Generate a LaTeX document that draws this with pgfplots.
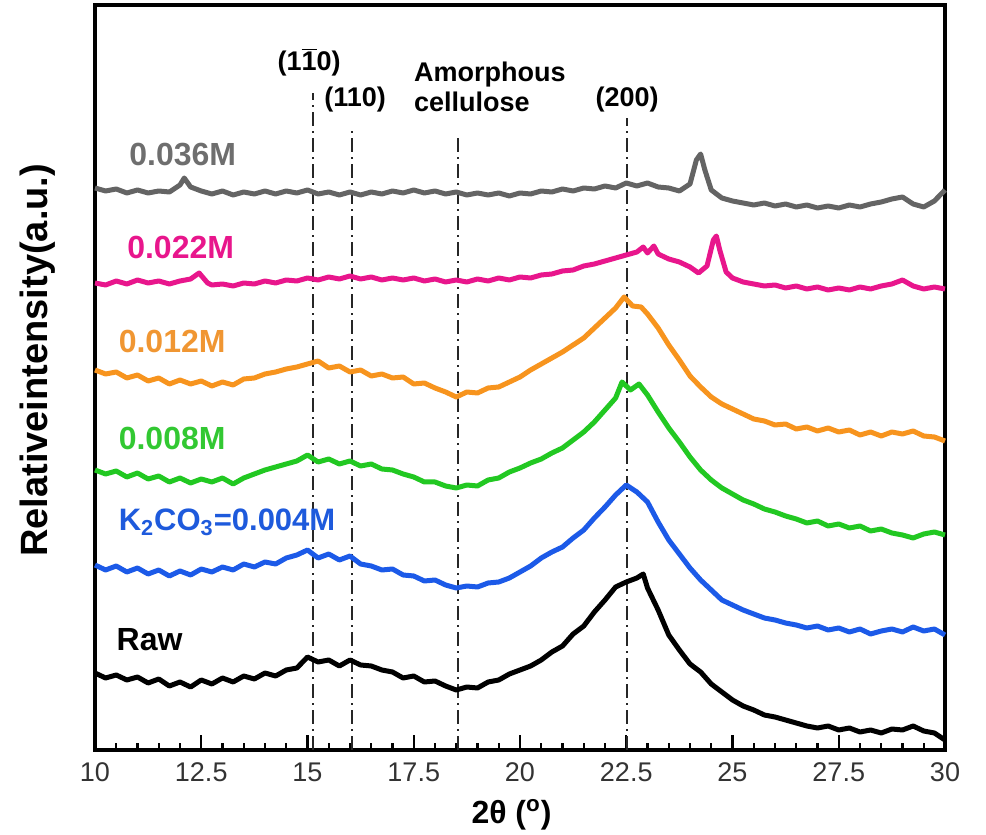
\documentclass[border=0pt]{standalone}
\usepackage{fontspec}
\setmainfont{Liberation Sans}
\usepackage{pgfplots}
\pgfplotsset{compat=1.18}
\definecolor{cgrey}{RGB}{100,100,100}
\definecolor{cpink}{RGB}{232,22,140}
\definecolor{corange}{RGB}{247,148,30}
\definecolor{cgreen}{RGB}{34,200,34}
\definecolor{cblue}{RGB}{28,90,232}
\definecolor{lgrey}{RGB}{110,110,110}
\definecolor{lorange}{RGB}{240,150,50}
\definecolor{lgreen}{RGB}{50,200,50}
\definecolor{lblue}{RGB}{30,90,220}
\begin{document}
\begin{tikzpicture}
\begin{axis}[
  scale only axis,
  width=425pt, height=372.5pt,
  xmin=10, xmax=30, ymin=0, ymax=745,
  axis line style={line width=2pt},
  xtick={10,12.5,15,17.5,20,22.5,25,27.5,30},
  minor x tick num=4,
  xtick pos=bottom,
  ytick=\empty,
  tick align=inside,
  major tick length=7.5pt,
  minor tick length=3.5pt,
  every tick/.style={black, line width=1.2pt},
  /pgf/number format/assume math mode=true,
  xticklabel style={font=\fontsize{13.5}{15}\selectfont, text=black!80, yshift=-3pt},
  xlabel={2θ (\textsuperscript{o})},
  xlabel style={font=\fontsize{16}{18}\selectfont\bfseries, at={(axis description cs:0.49,-0.087)}, anchor=center},
  ylabel={Relativeintensity(a.u.)},
  ylabel style={font=\fontsize{19}{21}\selectfont\bfseries, at={(axis description cs:-0.067,0.523)}, anchor=center},
  clip=false,
]
\coordinate (bl) at (rel axis cs:0,0);
\coordinate (tr) at (rel axis cs:1,1);
% reference lines
\addplot[black!85, line width=1pt, dash pattern=on 7pt off 2.5pt on 1pt off 2.5pt] coordinates {(15.13,0) (15.13,657)};
\addplot[black!85, line width=1pt, dash pattern=on 7pt off 2.5pt on 1pt off 2.5pt] coordinates {(16.05,0) (16.05,620)};
\addplot[black!85, line width=1pt, dash pattern=on 7pt off 2.5pt on 1pt off 2.5pt] coordinates {(18.55,0) (18.55,615)};
\addplot[black!85, line width=1pt, dash pattern=on 7pt off 2.5pt on 1pt off 2.5pt] coordinates {(22.52,0) (22.52,632)};
% Raw
\addplot[black, line width=2.5pt, line join=round] coordinates {
(10.00,77) (10.25,72) (10.50,75) (10.75,70) (11.00,73) (11.25,67) (11.50,71) (11.75,64) (12.00,68) (12.25,63)
(12.50,70) (12.75,66) (13.00,72) (13.25,68) (13.50,74) (13.75,71) (14.00,77) (14.25,74) (14.50,80) (14.75,82)
(15.00,93) (15.25,88) (15.50,90) (15.75,84) (16.00,90) (16.25,85) (16.50,84) (16.75,80) (17.00,78) (17.25,72)
(17.50,74) (17.75,68) (18.00,69) (18.25,64) (18.50,60) (18.75,63) (19.00,62) (19.25,68) (19.50,70) (19.75,76)
(20.00,80) (20.25,84) (20.50,90) (20.75,98) (21.00,104) (21.25,116) (21.50,124) (21.75,138) (22.00,150) (22.25,163)
(22.50,168) (22.75,172) (22.90,176) (23.00,162) (23.25,140) (23.50,115) (23.75,100) (24.00,86) (24.25,78) (24.50,66)
(24.75,58) (25.00,50) (25.25,44) (25.50,40) (25.75,35) (26.00,33) (26.25,30) (26.50,27) (26.75,24) (27.00,22)
(27.25,24) (27.50,20) (27.75,22) (28.00,18) (28.25,20) (28.50,17) (28.75,21) (29.00,20) (29.25,24) (29.50,19)
(29.75,17) (30.00,10)};
% 0.004M
\addplot[cblue, line width=2.5pt, line join=round] coordinates {
(10.00,185) (10.25,180) (10.50,184) (10.75,178) (11.00,182) (11.25,176) (11.50,180) (11.75,174) (12.00,179) (12.25,175)
(12.50,181) (12.75,178) (13.00,183) (13.25,180) (13.50,186) (13.75,183) (14.00,188) (14.25,186) (14.50,192) (14.75,195)
(15.00,200) (15.25,192) (15.50,196) (15.75,190) (16.00,194) (16.25,186) (16.50,184) (16.75,180) (17.00,181) (17.25,175)
(17.50,174) (17.75,169) (18.00,170) (18.25,165) (18.50,162) (18.75,164) (19.00,163) (19.25,167) (19.50,168) (19.75,172)
(20.00,178) (20.25,184) (20.50,192) (20.75,198) (21.00,203) (21.25,212) (21.50,220) (21.75,232) (22.00,243) (22.25,255)
(22.50,265) (22.75,258) (23.00,248) (23.25,228) (23.50,210) (23.75,196) (24.00,182) (24.25,170) (24.50,160) (24.75,150)
(25.00,145) (25.25,140) (25.50,136) (25.75,132) (26.00,130) (26.25,127) (26.50,125) (26.75,122) (27.00,124) (27.25,120)
(27.50,122) (27.75,118) (28.00,121) (28.25,116) (28.50,119) (28.75,121) (29.00,118) (29.25,123) (29.50,119) (29.75,121)
(30.00,115)};
% 0.008M
\addplot[cgreen, line width=2.5pt, line join=round] coordinates {
(10.00,280) (10.25,276) (10.50,279) (10.75,273) (11.00,277) (11.25,271) (11.50,274) (11.75,268) (12.00,272) (12.25,267)
(12.50,271) (12.75,268) (13.00,272) (13.25,266) (13.50,272) (13.75,276) (14.00,280) (14.25,283) (14.50,286) (14.75,289)
(15.00,295) (15.25,288) (15.50,291) (15.75,286) (16.00,289) (16.25,284) (16.50,286) (16.75,281) (17.00,280) (17.25,276)
(17.50,273) (17.75,268) (18.00,268) (18.25,264) (18.50,262) (18.75,265) (19.00,264) (19.25,270) (19.50,272) (19.75,278)
(20.00,282) (20.25,287) (20.50,291) (20.75,297) (21.00,302) (21.25,310) (21.50,318) (21.75,328) (22.00,340) (22.25,352)
(22.40,368) (22.60,360) (22.80,366) (23.00,355) (23.25,338) (23.50,322) (23.75,308) (24.00,293) (24.25,280) (24.50,270)
(24.75,262) (25.00,256) (25.25,250) (25.50,246) (25.75,241) (26.00,238) (26.25,234) (26.50,231) (26.75,227) (27.00,229)
(27.25,224) (27.50,226) (27.75,222) (28.00,224) (28.25,219) (28.50,221) (28.75,217) (29.00,215) (29.25,212) (29.50,216)
(29.75,218) (30.00,215)};
% 0.012M
\addplot[corange, line width=2.5pt, line join=round] coordinates {
(10.00,380) (10.25,376) (10.50,378) (10.75,372) (11.00,375) (11.25,369) (11.50,372) (11.75,366) (12.00,370) (12.25,366)
(12.50,369) (12.75,364) (13.00,368) (13.25,365) (13.50,371) (13.75,372) (14.00,376) (14.25,378) (14.50,381) (14.75,383)
(15.00,386) (15.25,389) (15.50,382) (15.75,384) (16.00,378) (16.25,380) (16.50,374) (16.75,376) (17.00,372) (17.25,373)
(17.50,366) (17.75,367) (18.00,362) (18.25,358) (18.50,353) (18.75,358) (19.00,357) (19.25,362) (19.50,363) (19.75,368)
(20.00,373) (20.25,380) (20.50,386) (20.75,392) (21.00,398) (21.25,405) (21.50,412) (21.75,422) (22.00,432) (22.25,442)
(22.45,453) (22.65,444) (22.85,443) (23.00,436) (23.25,422) (23.50,405) (23.75,390) (24.00,374) (24.25,363) (24.50,353)
(24.75,346) (25.00,341) (25.25,336) (25.50,331) (25.75,329) (26.00,325) (26.25,326) (26.50,321) (26.75,323) (27.00,319)
(27.25,322) (27.50,318) (27.75,320) (28.00,315) (28.25,318) (28.50,314) (28.75,318) (29.00,316) (29.25,319) (29.50,314)
(29.75,313) (30.00,309)};
% 0.022M
\addplot[cpink, line width=2.5pt, line join=round] coordinates {
(10.00,467) (10.25,465) (10.50,469) (10.75,466) (11.00,470) (11.25,467) (11.50,469) (11.75,466) (12.00,469) (12.25,471)
(12.45,477) (12.65,467) (12.75,465) (13.00,466) (13.25,464) (13.50,467) (13.75,466) (14.00,469) (14.25,467) (14.50,470)
(14.75,469) (15.00,472) (15.25,470) (15.50,473) (15.75,471) (16.00,474) (16.25,471) (16.50,473) (16.75,470) (17.00,472)
(17.25,470) (17.50,472) (17.75,469) (18.00,471) (18.25,468) (18.50,470) (18.75,468) (19.00,471) (19.25,469) (19.50,472)
(19.75,470) (20.00,473) (20.25,472) (20.50,475) (20.75,476) (21.00,479) (21.25,480) (21.50,484) (21.75,486) (22.00,489)
(22.25,492) (22.50,495) (22.75,498) (22.90,503) (23.00,497) (23.15,504) (23.25,496) (23.50,491) (23.75,488) (24.00,483)
(24.20,477) (24.40,484) (24.55,510) (24.62,514) (24.70,500) (24.85,478) (25.00,472) (25.25,468) (25.50,466) (25.75,464)
(26.00,465) (26.25,462) (26.50,464) (26.75,461) (27.00,463) (27.25,460) (27.50,462) (27.75,460) (28.00,463) (28.25,461)
(28.50,464) (28.75,466) (29.00,470) (29.25,464) (29.50,461) (29.75,463) (30.00,461)};
% 0.036M
\addplot[cgrey, line width=2.5pt, line join=round] coordinates {
(10.00,562) (10.25,559) (10.50,561) (10.75,557) (11.00,560) (11.25,557) (11.50,559) (11.75,558) (12.00,565) (12.10,572)
(12.25,563) (12.50,559) (12.75,556) (13.00,559) (13.25,555) (13.50,558) (13.75,556) (14.00,559) (14.25,556) (14.50,559)
(14.75,557) (15.00,560) (15.25,556) (15.50,558) (15.75,555) (16.00,558) (16.25,555) (16.50,558) (16.75,556) (17.00,559)
(17.25,557) (17.50,560) (17.75,557) (18.00,559) (18.25,556) (18.50,558) (18.75,555) (19.00,557) (19.25,555) (19.50,557)
(19.75,554) (20.00,557) (20.25,556) (20.50,559) (20.75,558) (21.00,561) (21.25,559) (21.50,562) (21.75,561) (22.00,564)
(22.25,562) (22.50,567) (22.75,564) (23.00,567) (23.25,563) (23.50,562) (23.75,559) (24.00,566) (24.15,590) (24.25,596)
(24.35,580) (24.50,560) (24.75,552) (25.00,549) (25.25,547) (25.50,545) (25.75,547) (26.00,544) (26.25,546) (26.50,543)
(26.75,545) (27.00,542) (27.25,544) (27.50,542) (27.75,545) (28.00,543) (28.25,546) (28.50,548) (28.75,551) (29.00,553)
(29.25,546) (29.50,543) (29.75,549) (30.00,560)};
% curve labels
\node[anchor=west, font=\fontsize{16}{18}\selectfont\bfseries, text=lgrey, inner sep=0pt] at (axis cs:10.8,595) {0.036M};
\node[anchor=west, font=\fontsize{16}{18}\selectfont\bfseries, text=cpink, inner sep=0pt] at (axis cs:10.75,503) {0.022M};
\node[anchor=west, font=\fontsize{16}{18}\selectfont\bfseries, text=lorange, inner sep=0pt] at (axis cs:10.55,409) {0.012M};
\node[anchor=west, font=\fontsize{16}{18}\selectfont\bfseries, text=lgreen, inner sep=0pt] at (axis cs:10.55,312) {0.008M};
\node[anchor=west, font=\fontsize{15.5}{18}\selectfont\bfseries, text=lblue, inner sep=0pt] at (axis cs:10.55,228) {K\textsubscript{2}CO\textsubscript{3}=0.004M};
\node[anchor=west, font=\fontsize{16}{18}\selectfont\bfseries, text=black, inner sep=0pt] at (axis cs:10.5,110) {Raw};
% peak annotations
\node[font=\fontsize{13.5}{15}\selectfont\bfseries, inner sep=0pt] at (axis cs:15.04,688) {(1$\overline{\mbox{1}}$0)};
\node[font=\fontsize{13.5}{15}\selectfont\bfseries, inner sep=0pt] at (axis cs:16.12,650) {(110)};
\node[font=\fontsize{13.5}{15}\selectfont\bfseries, anchor=west, align=left, inner sep=0pt] at (axis cs:17.5,663) {Amorphous\\cellulose};
\node[font=\fontsize{13.5}{15}\selectfont\bfseries, inner sep=0pt] at (axis cs:22.52,650) {(200)};
\end{axis}
\pgfresetboundingbox
\path ([shift={(-47.5pt,-42.5pt)}]bl) rectangle ([shift={(20.5pt,2.5pt)}]tr);
\end{tikzpicture}
\end{document}
